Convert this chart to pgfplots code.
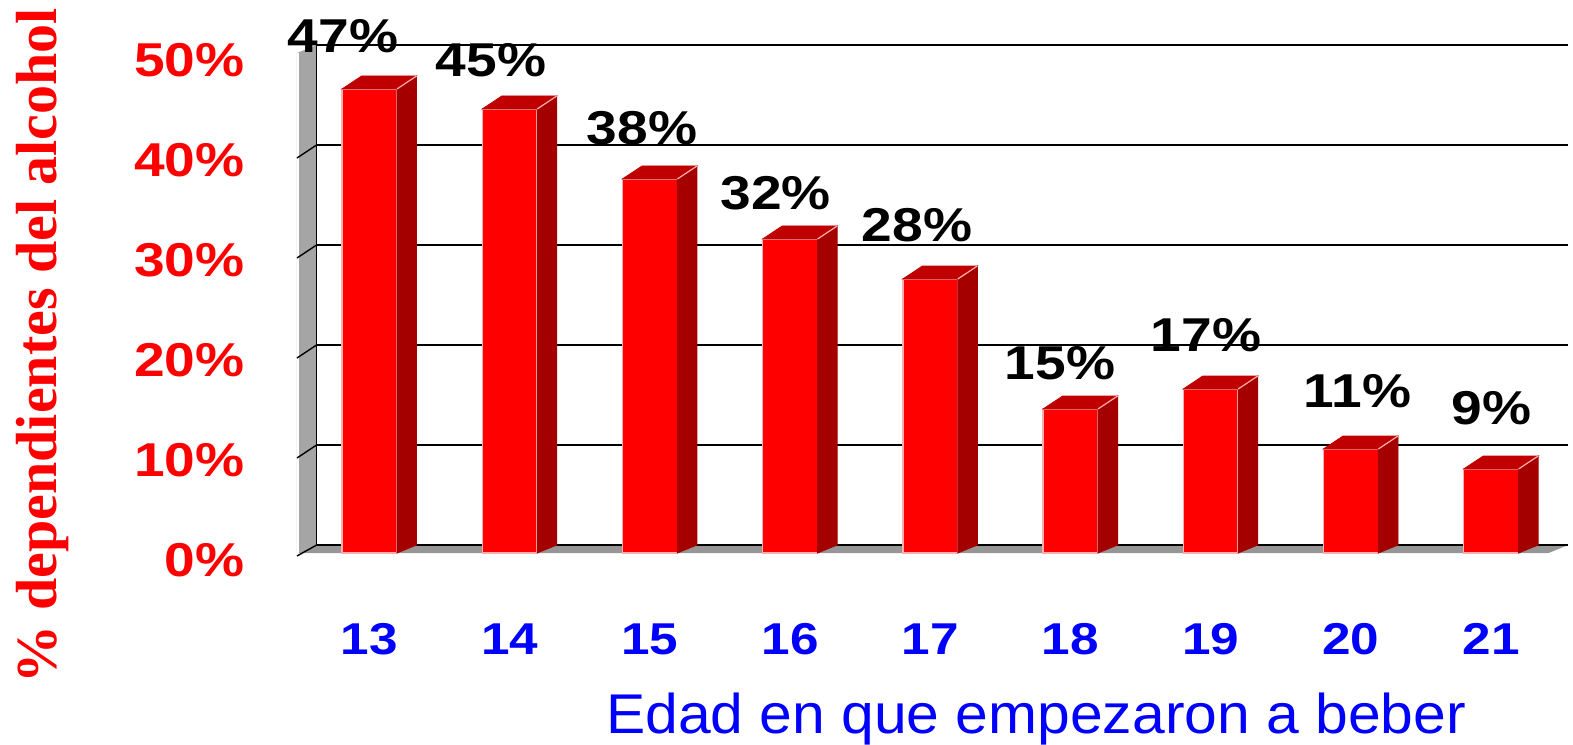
\documentclass[border=0pt]{standalone}
\usepackage{fontspec}
\setmainfont{Liberation Sans}
\newfontfamily\timesfont{Liberation Serif}
\usepackage{pgfplots}
\pgfplotsset{compat=1.18}
\usepackage{pgfplotstable}
\definecolor{barred}{RGB}{255,0,0}
\definecolor{sidered}{RGB}{165,0,0}
\definecolor{topred}{RGB}{192,0,0}
\definecolor{edgepink}{RGB}{255,175,175}
\definecolor{wallgray}{RGB}{165,165,165}
\definecolor{floorgray}{RGB}{150,150,150}
\definecolor{tickblue}{RGB}{0,0,255}

\pgfplotstableread{
x v lx ly
0 47 -0.189 51.65
1 45 0.867 49.3
2 38 1.944 42.45
3 32 2.896 35.95
4 28 3.905 32.75
5 15 4.925 19.0
6 17 5.967 21.75
7 11 7.047 16.15
8 9 8.003 14.45
}\data

\begin{document}
\begin{tikzpicture}
\begin{axis}[
  at={(0,0)}, anchor=south west,
  x=70.1pt, y=5pt,
  xmin=-0.517, xmax=8.41, ymin=0, ymax=50,
  clip=false,
  axis line style={draw=none},
  major tick length=0pt,
  xtick={0,...,8}, xticklabels={13,14,15,16,17,18,19,20,21},
  ytick={0,10,...,50}, yticklabels={0\%,10\%,20\%,30\%,40\%,50\%},
  xticklabel style={font=\fontsize{22.3}{22.3}\selectfont\bfseries, text=tickblue, anchor=center, inner sep=0pt, yshift=-43pt, xscale=1.15},
  yticklabel style={font=\fontsize{23.75}{24}\selectfont\bfseries, text=barred, anchor=east, inner sep=0pt, xshift=-26pt, yshift=-3.5pt, xscale=1.16},
  xlabel={Edad en que empezaron a beber},
  ylabel={\% dependientes del alcohol},
  every axis x label/.style={at={(axis cs:4.754,-18)}, anchor=base, font=\fontsize{28}{28}\selectfont, text=tickblue, xscale=1.05, inner sep=0pt},
  every axis y label/.style={at={(axis cs:-2.229,20.75)}, rotate=90, anchor=base, font=\timesfont\bfseries\fontsize{29}{29}\selectfont, text=barred, inner sep=0pt},
]
% floor and wall
\addplot[fill=floorgray, draw=none, forget plot] coordinates {(-0.517,0) (8.41,0) (8.55,0.8) (-0.377,0.8)} -- cycle;
\addplot[fill=wallgray, draw=none, forget plot] coordinates {(-0.517,0) (-0.377,0.8) (-0.377,50.8) (-0.517,50)} -- cycle;
\addplot[white, line width=0.8pt, forget plot] coordinates {(-0.508,0) (-0.508,50)};
% gridlines on back plane
\addplot[black, line width=0.9pt, forget plot] coordinates {(-0.377,0.8) (8.55,0.8)};
\addplot[black, line width=0.9pt, forget plot] coordinates {(-0.377,10.8) (8.55,10.8)};
\addplot[black, line width=0.9pt, forget plot] coordinates {(-0.377,20.8) (8.55,20.8)};
\addplot[black, line width=0.9pt, forget plot] coordinates {(-0.377,30.8) (8.55,30.8)};
\addplot[black, line width=0.9pt, forget plot] coordinates {(-0.377,40.8) (8.55,40.8)};
\addplot[black, line width=1.3pt, forget plot] coordinates {(-0.377,50.8) (8.55,50.8)};
\addplot[black, line width=0.8pt, forget plot] coordinates {(-0.377,0.8) (-0.377,50.8)};
% wall diagonals
\addplot[black, line width=0.7pt, forget plot] coordinates {(-0.517,-0.3) (-0.377,0.8)};
\addplot[black, line width=0.7pt, forget plot] coordinates {(-0.517,9.5) (-0.377,10.8)};
\addplot[black, line width=0.7pt, forget plot] coordinates {(-0.517,19.5) (-0.377,20.8)};
\addplot[black, line width=0.7pt, forget plot] coordinates {(-0.517,29.5) (-0.377,30.8)};
\addplot[black, line width=0.7pt, forget plot] coordinates {(-0.517,39.5) (-0.377,40.8)};
% side and top faces of the bars
\addplot[scatter, only marks, mark=*, mark size=0pt, mark options={draw=none, fill=none}, forget plot,
  visualization depends on={\thisrow{v} \as \val},
  scatter/@pre marker code/.code={%
    \fill[sidered] (axis direction cs:0.196,-0.6) -- (axis direction cs:0.336,0.7) -- (axis direction cs:0.336,{0.8-\val}) -- (axis direction cs:0.196,{-\val}) -- cycle;
    \fill[topred] (axis direction cs:-0.196,-0.6) -- (axis direction cs:0.196,-0.6) -- (axis direction cs:0.336,0.7) -- (axis direction cs:-0.056,0.7) -- cycle;
    \draw[edgepink, line width=0.6pt] (axis direction cs:0.196,-0.6) -- (axis direction cs:0.336,0.7);
  },
  scatter/@post marker code/.code={}
] table[x=x, y=v] {\data};
% front faces
\addplot[ybar, bar width=0.392, fill=barred, draw=edgepink, line width=0.7pt, forget plot]
  table[x=x, y expr=\thisrow{v}-0.6] {\data};
% value labels
\addplot[only marks, mark=*, mark size=0pt, mark options={draw=none, fill=none}, forget plot,
  point meta=explicit symbolic,
  nodes near coords={\pgfplotspointmeta\%},
  every node near coord/.append style={anchor=center, inner sep=0pt, font=\fontsize{23.75}{24}\selectfont\bfseries, text=black, xscale=1.16}
] table[x=lx, y=ly, meta=v] {\data};
\end{axis}
\pgfresetboundingbox
\path (-148.5pt,-95.5pt) rectangle (638pt,276.5pt);
\end{tikzpicture}
\end{document}
